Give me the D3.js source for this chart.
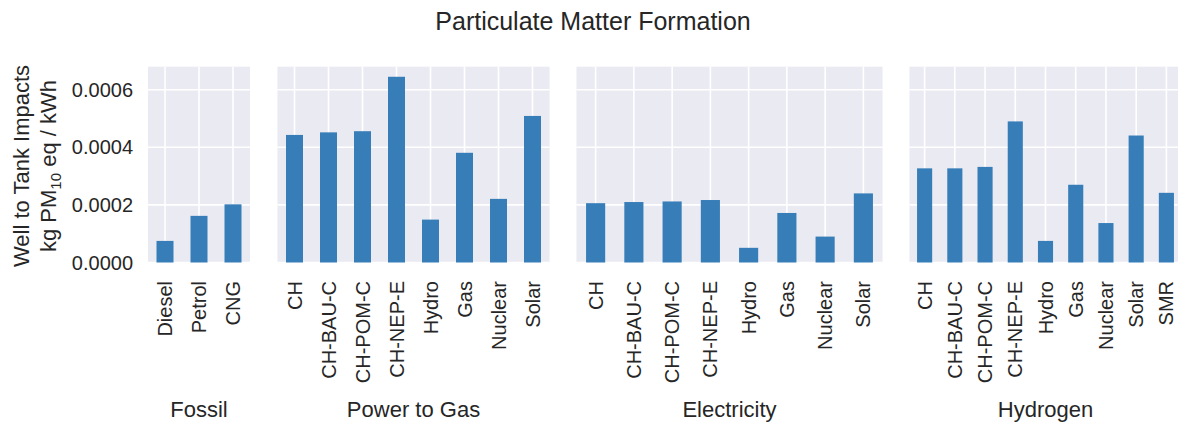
<!DOCTYPE html>
<html>
<head>
<meta charset="utf-8">
<script src="https://cdn.jsdelivr.net/npm/d3@7"></script>
<style>
  body { margin: 0; background: #fff; }
  text { font-family: "Liberation Sans", Arial, sans-serif; fill: #262626; }
</style>
</head>
<body>
<div id="chart"></div>
<script>
// values (kg PM10 eq / kWh)
const fossilCats = ["Diesel", "Petrol", "CNG"];
const fossilVals = [0.000075, 0.000162, 0.000202];

const p2gCats = ["CH", "CH-BAU-C", "CH-POM-C", "CH-NEP-E", "Hydro", "Gas", "Nuclear", "Solar"];
const p2gVals = [0.000443, 0.000452, 0.000456, 0.000645, 0.000149, 0.000381, 0.000221, 0.000509];

const elecCats = ["CH", "CH-BAU-C", "CH-POM-C", "CH-NEP-E", "Hydro", "Gas", "Nuclear", "Solar"];
const elecVals = [0.000206, 0.000210, 0.000212, 0.000217, 0.000051, 0.000172, 0.000090, 0.000240];

const h2Cats = ["CH", "CH-BAU-C", "CH-POM-C", "CH-NEP-E", "Hydro", "Gas", "Nuclear", "Solar", "SMR"];
const h2Vals = [0.000327, 0.000327, 0.000332, 0.000490, 0.000075, 0.000270, 0.000137, 0.000441, 0.000242];

const groupNames = ["Fossil", "Power to Gas", "Electricity", "Hydrogen"];
const yTicks = [0, 0.0002, 0.0004, 0.0006];

const W = 1178, H = 423;
const plotTop = 66.7, plotBottom = 262.5;
// panel x extents
const panelX = [[148, 250], [277.5, 549.5], [576.5, 882.5], [909.5, 1181.5]];

const panels = [
    { cats: fossilCats, vals: fossilVals },
    { cats: p2gCats, vals: p2gVals },
    { cats: elecCats, vals: elecVals },
    { cats: h2Cats, vals: h2Vals },
];

const svg = d3.select("#chart").append("svg")
    .attr("width", W)
    .attr("height", H);

const y = d3.scaleLinear()
    .domain([0, 0.00068])
    .range([plotBottom, plotTop]);

panels.forEach((p, i) => {
    const [x0, x1] = panelX[i];
    const data = p.cats.map((c, j) => ({ cat: c, value: p.vals[j] }));

    const x = d3.scaleBand()
        .domain(p.cats)
        .range([x0, x1])
        .paddingInner(0.5)
        .paddingOuter(0.25);

    const g = svg.append("g");

    g.append("rect")
        .attr("x", x0)
        .attr("y", plotTop)
        .attr("width", x1 - x0)
        .attr("height", plotBottom - plotTop)
        .attr("fill", "#eaeaf2");

    // grid
    g.selectAll(".hgrid")
        .data(yTicks)
        .enter()
        .append("line")
        .attr("x1", x0).attr("x2", x1)
        .attr("y1", d => y(d)).attr("y2", d => y(d))
        .attr("stroke", "#fff")
        .attr("stroke-width", 1.6);

    g.selectAll(".vgrid")
        .data(p.cats)
        .enter()
        .append("line")
        .attr("x1", d => x(d) + x.bandwidth() / 2)
        .attr("x2", d => x(d) + x.bandwidth() / 2)
        .attr("y1", plotTop).attr("y2", plotBottom)
        .attr("stroke", "#fff")
        .attr("stroke-width", 1.6);

    g.selectAll(".bar")
        .data(data)
        .enter()
        .append("rect")
        .attr("class", "bar")
        .attr("x", d => x(d.cat))
        .attr("y", d => y(d.value))
        .attr("width", x.bandwidth())
        .attr("height", d => y(0) - y(d.value))
        .attr("fill", "#377eb8");

    // rotated category labels
    g.selectAll(".xlab")
        .data(p.cats)
        .enter()
        .append("text")
        .attr("transform", d => "translate(" + (x(d) + x.bandwidth() / 2) + ",281) rotate(-90)")
        .attr("text-anchor", "end")
        .attr("dy", "0.35em")
        .style("font-size", "20px")
        .text(d => d);

    g.append("text")
        .attr("x", (x0 + x1) / 2)
        .attr("y", 416.5)
        .attr("text-anchor", "middle")
        .style("font-size", "22px")
        .text(groupNames[i]);

    if (i === 0) {
        g.selectAll(".ylab")
            .data(yTicks)
            .enter()
            .append("text")
            .attr("x", 133)
            .attr("y", d => y(d))
            .attr("dy", "0.35em")
            .attr("text-anchor", "end")
            .style("font-size", "20px")
            .text(d => d.toFixed(4));
    }
});

// y axis title, two lines
const yt1 = svg.append("text")
    .attr("transform", "translate(29,166) rotate(-90)")
    .attr("text-anchor", "middle")
    .style("font-size", "22px")
    .text("Well to Tank Impacts");

const yt2 = svg.append("text")
    .attr("transform", "translate(56,166) rotate(-90)")
    .attr("text-anchor", "middle")
    .style("font-size", "22px");
yt2.append("tspan").text("kg PM");
yt2.append("tspan").attr("dy", 5).style("font-size", "15px").text("10");
yt2.append("tspan").attr("dy", -5).text(" eq / kWh");

svg.append("text")
    .attr("x", 593)
    .attr("y", 29.5)
    .attr("text-anchor", "middle")
    .style("font-size", "25px")
    .text("Particulate Matter Formation");
</script>
</body>
</html>
